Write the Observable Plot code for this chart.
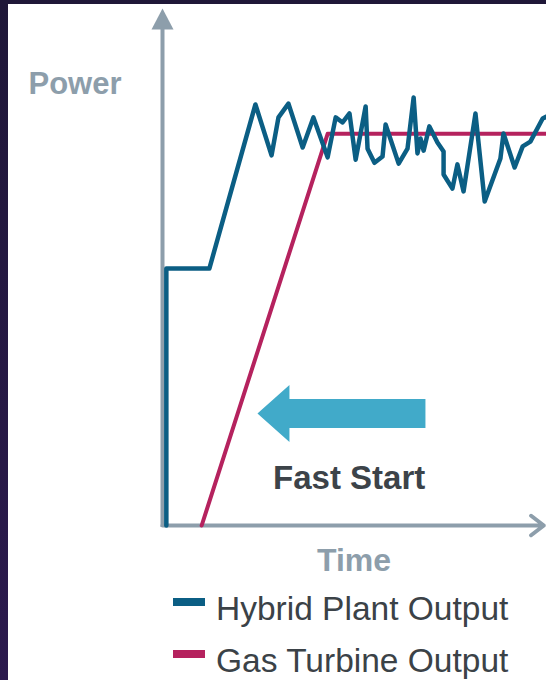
<!DOCTYPE html>
<html><head><meta charset="utf-8">
<script src="https://cdn.jsdelivr.net/npm/d3@7"></script>
<script src="https://cdn.jsdelivr.net/npm/@observablehq/plot@0.6"></script>
<style>
html,body{margin:0;padding:0;}
body{width:546px;height:680px;overflow:hidden;position:relative;background:linear-gradient(180deg,#1f1738 0%,#2c1a4e 100%);font-family:"Liberation Sans",Arial,sans-serif;}
#panel{position:absolute;left:8px;top:4px;right:0;bottom:0;background:#fff;}
#chart{position:absolute;left:0;top:0;}
.legend{position:absolute;left:173px;display:flex;align-items:flex-start;font-size:33.5px;line-height:33.5px;color:#3b4247;white-space:nowrap;}
.sw{width:32px;height:8px;margin-top:6px;margin-right:11px;}
</style></head><body>
<div id="panel"></div>
<div id="chart"></div>
<div id="legend"></div>
<script>
// Series names
const seriesNames = ["Hybrid Plant Output", "Gas Turbine Output"];
// Hybrid plant output (time, power as % of rated turbine output)
const hybridTime  = [1.0, 1.0, 12.2, 24.2, 28.4, 30.2, 32.8, 36.5, 39.3, 43.0, 45.1, 46.9, 48.7, 50.3, 52.9, 53.4, 55.2, 57.3, 58.1, 61.5, 63.8, 65.4, 66.4, 67.2, 68.0, 69.5, 71.6, 73.2, 73.2, 75.5, 76.8, 78.4, 81.5, 83.9, 88.0, 88.8, 91.7, 93.8, 95.8, 99.0, 100];
const hybridPower = [0, 65.6, 65.6, 107.5, 94.5, 104.2, 107.7, 96.5, 104.2, 94.0, 104.2, 102.9, 105.2, 93.4, 107.0, 96.2, 92.6, 94.2, 102.4, 92.4, 96.2, 109.3, 95.0, 98.8, 95.7, 101.9, 97.8, 95.5, 89.6, 86.0, 92.2, 85.3, 105.2, 82.7, 93.7, 100.1, 91.4, 96.8, 98.0, 103.9, 104.4];
// Gas turbine output
const turbineTime  = [10.2, 43.0, 100];
const turbinePower = [0, 100, 100];
// Axis and annotation labels
const axisLabels = {x: "Time", y: "Power"};
const annotationLabel = "Fast Start";
// Annotation: the start advantage (time, power level)
const fastStartTime = [46.6];
const fastStartLevel = [28.6];
const textTime = [48.6];
const textLevel = [9.2];

const blue = "#0b5e84", red = "#b5225e", gray = "#8d9eab", cyan = "#41aac9", dark = "#3c4349";

const hybridData = hybridTime.map((t, i) => ({t, p: hybridPower[i]}));
const turbineData = turbineTime.map((t, i) => ({t, p: turbinePower[i]}));
const arrowData = fastStartTime.map((t, i) => ({t, p: fastStartLevel[i]}));
const textData = textTime.map((t, i) => ({t, p: textLevel[i], label: annotationLabel}));

const triangleUp = {draw(ctx) { ctx.moveTo(0, 0); ctx.lineTo(11, 21); ctx.lineTo(-11, 21); ctx.closePath(); }};
const blockArrow = {draw(ctx) {
  const L = 84, h = 14.5, H = 28.5, head = 32;
  ctx.moveTo(L, -h); ctx.lineTo(-L + head, -h); ctx.lineTo(-L + head, -H); ctx.lineTo(-L, 0);
  ctx.lineTo(-L + head, H); ctx.lineTo(-L + head, h); ctx.lineTo(L, h); ctx.closePath();
}};

const tMax = d3.max(hybridTime);
const chart = Plot.plot({
  width: 546, height: 590,
  marginLeft: 162, marginRight: 0, marginTop: 8, marginBottom: 65,
  style: {background: "transparent", overflow: "visible", fontFamily: "Liberation Sans, Arial, sans-serif"},
  x: {domain: [0, tMax], axis: null},
  y: {domain: [0, 132], axis: null},
  marks: [
    Plot.ruleX([0], {stroke: gray, strokeWidth: 4, insetTop: 18, insetBottom: -2}),
    Plot.dot([0], {x: 0, y: 132, symbol: triangleUp, fill: gray, stroke: "none"}),
    Plot.arrow([0], {x1: 0, x2: tMax - 0.7, y1: 0, y2: 0, stroke: gray, strokeWidth: 4, headLength: 6, headAngle: 75}),
    Plot.line(turbineData, {x: "t", y: "p", stroke: red, strokeWidth: 4}),
    Plot.line(hybridData, {x: "t", y: "p", stroke: blue, strokeWidth: 4.5}),
    Plot.dot(arrowData, {x: "t", y: "p", symbol: blockArrow, fill: cyan, stroke: "none"}),
    Plot.text(textData, {x: "t", y: "p", text: "label", fontSize: 33, fontWeight: "bold", fill: dark, lineAnchor: "bottom"}),
    Plot.text([axisLabels.y], {frameAnchor: "top-left", text: d => d, textAnchor: "middle", dx: -87.5, dy: 85, lineAnchor: "bottom", fontSize: 31, fontWeight: "bold", fill: gray}),
    Plot.text([axisLabels.x], {frameAnchor: "bottom", text: d => d, textAnchor: "middle", dx: -0.5, dy: 45, lineAnchor: "bottom", fontSize: 32, fontWeight: "bold", fill: gray})
  ]
});
document.getElementById("chart").append(chart);

const legend = document.getElementById("legend");
[blue, red].forEach((c, i) => {
  const row = document.createElement("div");
  row.className = "legend";
  row.style.top = (592 + i * 52) + "px";
  const sw = document.createElement("div");
  sw.className = "sw"; sw.style.background = c;
  const tx = document.createElement("span");
  tx.textContent = seriesNames[i];
  row.append(sw, tx);
  legend.append(row);
});
</script>
</body></html>
